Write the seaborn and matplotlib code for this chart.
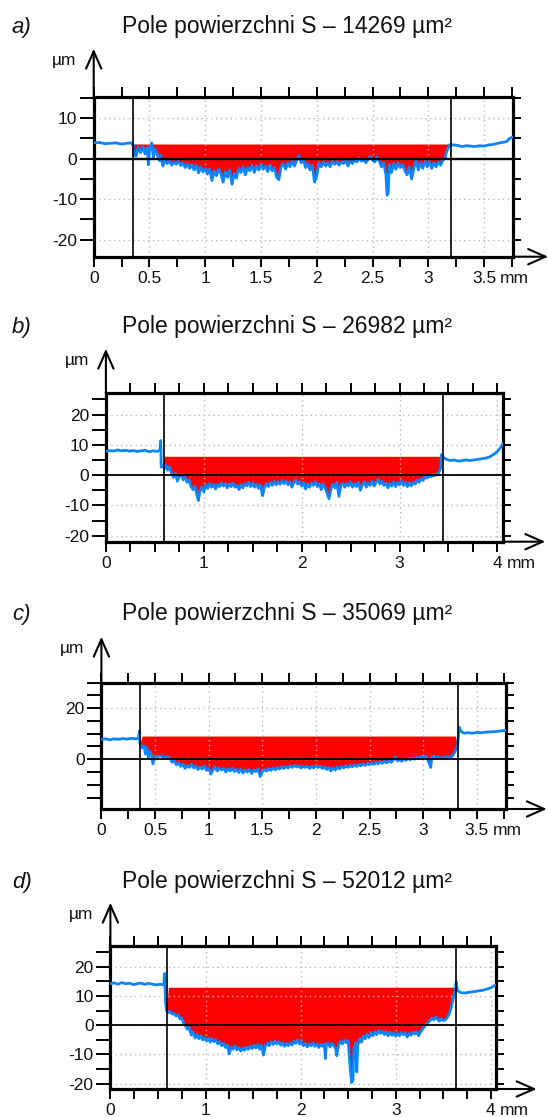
import numpy as np
import pandas as pd
import seaborn as sns
import matplotlib.pyplot as plt
from matplotlib import font_manager
from matplotlib.ticker import MultipleLocator, FuncFormatter
from matplotlib.transforms import offset_copy


# ---- values (x in mm, y in um) ----
panel_tags = ['a)', 'b)', 'c)', 'd)']
areas = [14269, 26982, 35069, 52012]

prof_a = [
    (0.00, 3.9), (0.05, 4.0), (0.10, 3.7), (0.15, 3.8), (0.20, 3.9), (0.25, 3.6), (0.30, 3.8), (0.34, 3.9),
    (0.355, 3.2), (0.36, 1.0), (0.38, 0.6), (0.40, 2.9), (0.42, 1.5), (0.44, 3.0), (0.46, 1.2), (0.48, 2.8),
    (0.49, -1.5), (0.50, 2.0), (0.52, 3.9), (0.535, 0.2), (0.55, 2.5), (0.57, 1.0), (0.59, -0.5), (0.60, 0.8),
    (0.62, -1.8), (0.64, -0.4), (0.66, -1.2), (0.68, -0.6), (0.70, -1.6), (0.72, -0.8), (0.74, -1.4), (0.76, -0.5),
    (0.78, -1.7), (0.80, -1.0), (0.82, -2.2), (0.84, -1.3), (0.86, -2.4), (0.88, -1.5), (0.90, -2.8), (0.92, -1.6),
    (0.94, -3.5), (0.96, -2.0), (0.98, -3.3), (1.00, -2.4), (1.02, -3.8), (1.04, -2.6), (1.06, -5.4), (1.08, -3.0),
    (1.10, -4.2), (1.12, -2.6), (1.14, -3.6), (1.16, -5.8), (1.18, -3.2), (1.20, -4.6), (1.22, -2.8), (1.24, -6.3),
    (1.26, -3.6), (1.28, -4.8), (1.30, -2.4), (1.32, -3.4), (1.34, -2.0), (1.36, -4.0), (1.38, -2.2), (1.40, -3.0),
    (1.42, -1.6), (1.44, -3.4), (1.46, -1.8), (1.48, -2.8), (1.50, -1.4), (1.52, -2.6), (1.54, -1.8), (1.56, -3.2),
    (1.58, -1.6), (1.60, -3.0), (1.62, -2.2), (1.64, -4.6), (1.66, -5.2), (1.68, -2.0), (1.70, -1.2), (1.72, -2.6),
    (1.74, -1.0), (1.76, -2.0), (1.78, -0.6), (1.80, -1.8), (1.82, -0.4), (1.84, 0.8), (1.86, -1.0), (1.88, -0.2),
    (1.90, -2.2), (1.92, -1.2), (1.94, -2.8), (1.96, -1.6), (1.98, -5.8), (2.00, -4.2), (2.02, -1.0), (2.04, -2.0),
    (2.06, -0.8), (2.08, -1.8), (2.10, -1.0), (2.12, -2.0), (2.14, -0.6), (2.16, -1.4), (2.18, -0.8), (2.20, -1.6),
    (2.22, -0.8), (2.24, -1.2), (2.26, -0.4), (2.28, -1.8), (2.30, -0.6), (2.32, -1.2), (2.34, -0.2), (2.36, -0.8),
    (2.38, 0.2), (2.40, -0.6), (2.42, -0.2), (2.44, -1.0), (2.46, -0.2), (2.48, 0.6), (2.50, -0.4), (2.52, -0.8),
    (2.54, 0.4), (2.56, -0.6), (2.58, -2.0), (2.60, -1.0), (2.62, -4.0), (2.63, -9.0), (2.64, -8.6), (2.65, -1.5),
    (2.67, -3.4), (2.69, -1.2), (2.71, -2.6), (2.73, -1.0), (2.75, -2.2), (2.77, -1.4), (2.79, -3.0), (2.81, -4.0),
    (2.83, -2.0), (2.85, -5.0), (2.87, -2.4), (2.89, -0.2), (2.91, -2.8), (2.93, -1.0), (2.95, -2.4), (2.97, -0.6),
    (2.99, -2.0), (3.01, -0.8), (3.03, -2.4), (3.05, -1.0), (3.07, -2.0), (3.09, -0.8), (3.11, -1.6), (3.13, -0.4),
    (3.15, 0.2), (3.16, 1.4), (3.18, 2.8), (3.20, 3.6), (3.22, 3.4), (3.26, 3.3), (3.30, 3.0), (3.34, 3.2),
    (3.38, 3.1), (3.42, 3.0), (3.46, 3.2), (3.50, 3.1), (3.54, 3.4), (3.58, 3.5), (3.62, 3.8), (3.66, 4.0),
    (3.70, 4.2), (3.73, 5.0), (3.76, 5.4),
]

prof_b = [
    (0.00, 7.8), (0.04, 8.1), (0.08, 7.9), (0.12, 8.3), (0.16, 8.0), (0.20, 8.2), (0.24, 7.9), (0.28, 8.1),
    (0.32, 7.8), (0.36, 8.0), (0.40, 8.2), (0.44, 7.7), (0.48, 8.0), (0.52, 7.8), (0.55, 8.1), (0.56, 11.4),
    (0.565, 2.6), (0.58, 3.2), (0.60, 2.2), (0.61, 3.4), (0.63, 1.6), (0.65, 2.8), (0.67, 0.6), (0.69, -0.8),
    (0.71, 0.6), (0.73, -2.0), (0.75, -0.6), (0.77, 0.2), (0.79, -1.6), (0.81, -0.8), (0.83, -2.4), (0.85, -1.6),
    (0.87, -3.8), (0.89, -4.8), (0.91, -3.6), (0.93, -6.6), (0.945, -8.4), (0.96, -5.2), (0.98, -3.8), (1.00, -5.6),
    (1.02, -3.2), (1.04, -4.4), (1.06, -2.8), (1.08, -4.0), (1.10, -3.0), (1.12, -4.6), (1.14, -3.2), (1.16, -3.8),
    (1.18, -2.6), (1.20, -3.6), (1.22, -2.8), (1.24, -4.2), (1.26, -3.0), (1.28, -3.8), (1.30, -2.6), (1.32, -4.0),
    (1.34, -3.4), (1.36, -4.8), (1.38, -3.2), (1.40, -4.2), (1.42, -2.8), (1.44, -3.6), (1.46, -2.4), (1.48, -3.8),
    (1.50, -2.6), (1.52, -4.0), (1.54, -3.0), (1.56, -4.4), (1.58, -3.2), (1.60, -6.8), (1.62, -4.0), (1.64, -2.8),
    (1.66, -3.8), (1.68, -2.4), (1.70, -3.4), (1.72, -2.0), (1.74, -3.2), (1.76, -2.2), (1.78, -3.0), (1.80, -1.8),
    (1.82, -2.8), (1.84, -2.0), (1.86, -3.2), (1.88, -2.2), (1.90, -4.0), (1.92, -2.6), (1.94, -1.6), (1.96, -3.0),
    (1.98, -2.2), (2.00, -3.6), (2.02, -2.4), (2.04, -4.6), (2.06, -3.0), (2.08, -4.0), (2.10, -2.6), (2.12, -3.4),
    (2.14, -2.2), (2.16, -3.8), (2.18, -2.8), (2.20, -4.8), (2.22, -3.0), (2.24, -4.2), (2.26, -6.0), (2.28, -7.8),
    (2.30, -4.4), (2.32, -3.0), (2.34, -4.2), (2.36, -2.4), (2.38, -7.0), (2.40, -3.6), (2.42, -2.6), (2.44, -4.0),
    (2.46, -2.8), (2.48, -3.6), (2.50, -2.2), (2.52, -4.0), (2.54, -2.8), (2.56, -3.8), (2.58, -2.4), (2.60, -5.0),
    (2.62, -3.2), (2.64, -2.2), (2.66, -4.0), (2.68, -2.6), (2.70, -3.4), (2.72, -2.0), (2.74, -3.6), (2.76, -2.4),
    (2.78, -1.4), (2.80, -3.0), (2.82, -2.0), (2.84, -3.4), (2.86, -2.6), (2.88, -4.2), (2.90, -2.8), (2.92, -3.6),
    (2.94, -2.2), (2.96, -3.8), (2.98, -2.4), (3.00, -3.2), (3.02, -2.0), (3.04, -3.4), (3.06, -2.4), (3.08, -3.8),
    (3.10, -2.6), (3.12, -3.6), (3.14, -2.4), (3.16, -3.0), (3.18, -1.6), (3.20, -2.4), (3.22, -1.2), (3.24, -1.8),
    (3.26, -0.6), (3.28, -1.0), (3.30, -0.4), (3.32, -0.6), (3.34, 0.0), (3.36, -0.2), (3.38, 0.4), (3.40, 0.8),
    (3.42, 2.2), (3.43, 6.8), (3.45, 5.8), (3.48, 5.2), (3.52, 4.8), (3.56, 5.0), (3.60, 4.6), (3.64, 4.8),
    (3.68, 5.0), (3.72, 4.8), (3.76, 5.0), (3.80, 5.2), (3.84, 5.4), (3.88, 5.6), (3.92, 6.0), (3.96, 6.8),
    (4.00, 7.8), (4.03, 9.0), (4.06, 10.6),
]

prof_c = [
    (0.00, 7.8), (0.04, 8.0), (0.08, 7.6), (0.12, 8.0), (0.16, 7.8), (0.20, 8.1), (0.24, 7.9), (0.28, 8.2),
    (0.32, 8.0), (0.345, 8.2), (0.355, 11.2), (0.36, 6.0), (0.38, 4.4), (0.40, 5.2), (0.41, 2.0), (0.42, 4.6),
    (0.44, 0.4), (0.45, 3.2), (0.47, 1.6), (0.48, -1.8), (0.50, 1.2), (0.52, 1.0), (0.55, 1.4), (0.58, 0.8),
    (0.61, 1.0), (0.64, 0.4), (0.66, -1.2), (0.68, -0.6), (0.70, -2.2), (0.72, -1.4), (0.74, -2.8), (0.76, -1.8),
    (0.78, -3.6), (0.80, -2.4), (0.82, -3.2), (0.84, -2.0), (0.86, -3.4), (0.88, -2.6), (0.90, -4.0), (0.92, -3.0),
    (0.94, -3.8), (0.96, -2.6), (0.98, -4.4), (1.00, -3.4), (1.02, -5.8), (1.04, -4.2), (1.06, -3.0), (1.08, -4.6),
    (1.10, -3.4), (1.12, -4.2), (1.14, -3.6), (1.16, -5.0), (1.18, -3.8), (1.20, -4.6), (1.22, -3.4), (1.24, -4.8),
    (1.26, -4.0), (1.28, -5.2), (1.30, -3.8), (1.32, -5.4), (1.34, -4.2), (1.36, -5.0), (1.38, -4.0), (1.40, -5.6),
    (1.42, -4.2), (1.44, -4.8), (1.46, -3.8), (1.48, -6.8), (1.50, -5.0), (1.52, -4.0), (1.54, -4.6), (1.56, -3.6),
    (1.58, -4.4), (1.60, -3.4), (1.62, -4.2), (1.64, -3.2), (1.66, -3.8), (1.68, -3.0), (1.70, -3.6), (1.72, -2.8),
    (1.74, -3.4), (1.76, -2.6), (1.78, -3.2), (1.80, -2.4), (1.82, -3.0), (1.84, -2.6), (1.86, -3.4), (1.88, -2.8),
    (1.90, -3.2), (1.92, -2.6), (1.94, -3.6), (1.96, -2.8), (1.98, -3.4), (2.00, -2.6), (2.02, -3.2), (2.04, -2.8),
    (2.06, -3.6), (2.08, -3.0), (2.10, -4.0), (2.12, -3.2), (2.14, -4.6), (2.16, -3.4), (2.18, -4.2), (2.20, -3.0),
    (2.22, -3.8), (2.24, -2.8), (2.26, -3.4), (2.28, -2.6), (2.30, -3.2), (2.32, -2.4), (2.34, -3.0), (2.36, -2.2),
    (2.38, -2.8), (2.40, -2.0), (2.42, -2.6), (2.44, -1.8), (2.46, -2.4), (2.48, -1.6), (2.50, -2.2), (2.52, -1.4),
    (2.54, -2.0), (2.56, -1.2), (2.58, -1.8), (2.60, -1.0), (2.62, -1.6), (2.64, -0.8), (2.66, -1.4), (2.68, -0.6),
    (2.70, -1.2), (2.72, -0.4), (2.74, 0.8), (2.76, -0.6), (2.78, -0.2), (2.80, -0.8), (2.82, 0.2), (2.84, -0.4),
    (2.86, 0.4), (2.88, -0.2), (2.90, 0.6), (2.92, 0.0), (2.94, 0.8), (2.96, 0.2), (2.98, 1.0), (3.00, 0.4),
    (3.02, 1.2), (3.04, 0.0), (3.06, -2.0), (3.07, -3.2), (3.08, 0.8), (3.10, 1.2), (3.12, 0.4), (3.14, 1.0),
    (3.16, 0.2), (3.18, 0.8), (3.20, 0.4), (3.22, 1.0), (3.24, 0.6), (3.26, 1.0), (3.28, 1.6), (3.30, 3.4),
    (3.32, 5.2), (3.335, 12.6), (3.35, 11.0), (3.38, 10.2), (3.42, 10.4), (3.46, 10.2), (3.50, 10.5), (3.54, 10.4),
    (3.58, 10.6), (3.62, 10.7), (3.66, 10.8), (3.70, 11.0), (3.74, 11.2), (3.77, 11.3),
]

prof_d = [
    (0.00, 14.2), (0.04, 14.5), (0.08, 14.0), (0.12, 14.6), (0.16, 14.2), (0.20, 14.4), (0.24, 13.9), (0.28, 14.2),
    (0.32, 14.4), (0.36, 14.0), (0.40, 14.3), (0.44, 14.1), (0.48, 13.8), (0.52, 14.0), (0.56, 13.8), (0.57, 17.7),
    (0.58, 8.0), (0.59, 5.0), (0.61, 4.2), (0.63, 4.8), (0.65, 3.8), (0.67, 4.0), (0.69, 3.2), (0.71, 3.6),
    (0.73, 2.2), (0.75, 2.6), (0.77, 0.6), (0.79, -0.2), (0.81, -1.4), (0.83, -0.8), (0.85, -3.4), (0.87, -2.2),
    (0.89, -4.4), (0.91, -3.2), (0.93, -4.6), (0.95, -3.6), (0.97, -5.0), (0.99, -4.2), (1.01, -5.4), (1.03, -4.4),
    (1.05, -5.8), (1.07, -4.6), (1.09, -5.6), (1.11, -5.0), (1.13, -6.4), (1.15, -5.6), (1.17, -7.0), (1.19, -6.2),
    (1.21, -7.6), (1.23, -6.8), (1.25, -9.8), (1.27, -7.4), (1.29, -8.2), (1.31, -7.0), (1.33, -8.4), (1.35, -7.6),
    (1.37, -8.8), (1.39, -7.8), (1.41, -8.6), (1.43, -7.4), (1.45, -8.2), (1.47, -7.2), (1.49, -8.0), (1.51, -6.8),
    (1.53, -7.8), (1.55, -6.6), (1.57, -8.2), (1.59, -6.8), (1.61, -10.2), (1.63, -7.0), (1.65, -6.0), (1.67, -7.0),
    (1.69, -5.6), (1.71, -6.6), (1.73, -5.4), (1.75, -6.4), (1.77, -5.6), (1.79, -6.8), (1.81, -6.0), (1.83, -7.2),
    (1.85, -6.2), (1.87, -7.0), (1.89, -6.0), (1.91, -6.8), (1.93, -5.4), (1.95, -6.2), (1.97, -5.0), (1.99, -6.4),
    (2.01, -5.6), (2.03, -7.0), (2.05, -6.2), (2.07, -7.4), (2.09, -6.4), (2.11, -7.0), (2.13, -6.0), (2.15, -7.2),
    (2.17, -6.4), (2.19, -7.6), (2.21, -6.6), (2.23, -7.2), (2.25, -6.4), (2.26, -11.4), (2.27, -6.8), (2.29, -6.0),
    (2.31, -7.4), (2.33, -6.2), (2.35, -7.0), (2.37, -8.0), (2.38, -10.4), (2.40, -6.6), (2.42, -5.6), (2.44, -6.4),
    (2.46, -5.0), (2.48, -6.0), (2.50, -5.2), (2.52, -14.0), (2.535, -19.6), (2.55, -19.0), (2.56, -8.0), (2.58, -6.0),
    (2.59, -16.0), (2.60, -7.0), (2.62, -4.6), (2.64, -5.8), (2.66, -3.6), (2.68, -4.6), (2.70, -3.0), (2.72, -4.2),
    (2.74, -2.6), (2.76, -3.6), (2.78, -2.2), (2.80, -3.2), (2.82, -1.8), (2.84, -2.8), (2.86, -2.0), (2.88, -3.2),
    (2.90, -2.2), (2.92, -3.6), (2.94, -2.4), (2.96, -3.4), (2.98, -2.6), (3.00, -3.8), (3.02, -2.8), (3.04, -3.6),
    (3.06, -2.4), (3.08, -3.2), (3.10, -2.6), (3.12, -4.0), (3.14, -2.8), (3.16, -3.4), (3.18, -2.4), (3.20, -3.0),
    (3.22, -2.2), (3.24, -3.6), (3.26, -2.4), (3.28, -1.4), (3.30, -0.6), (3.32, 0.2), (3.34, 0.8), (3.36, 1.6),
    (3.38, 2.4), (3.40, 1.8), (3.42, 2.8), (3.44, 2.0), (3.46, 1.4), (3.48, 2.2), (3.50, 1.6), (3.52, 1.8),
    (3.54, 2.6), (3.56, 3.6), (3.58, 5.8), (3.60, 8.6), (3.61, 10.2), (3.625, 11.4), (3.635, 14.8), (3.65, 11.8),
    (3.68, 11.2), (3.72, 11.0), (3.76, 11.2), (3.80, 11.4), (3.84, 11.6), (3.88, 11.8), (3.92, 12.0), (3.96, 12.4),
    (4.00, 12.8), (4.05, 13.8),
]

profiles = [prof_a, prof_b, prof_c, prof_d]

# boundaries of the measured groove and the level of the filled area
edge_left = [0.35, 0.59, 0.36, 0.59]
edge_right = [3.20, 3.44, 3.32, 3.63]
fill_from = [0.36, 0.59, 0.37, 0.60]
fill_to = [3.19, 3.43, 3.31, 3.62]
fill_level = [3.5, 6.2, 9.1, 13.0]

# axis ranges and tick steps
x_max = [3.76, 4.06, 3.77, 4.05]
y_lo = [-24.2, -22.0, -19.5, -21.8]
y_hi = [15.3, 27.2, 30.0, 27.2]
x_major = [0.5, 1.0, 0.5, 1.0]
y_major = [10, 10, 20, 10]
x_last = [3.5, 4.0, 3.5, 4.0]


# ---- layout (pixels of a 548 x 1117 picture) ----
W, H = 548, 1117
axes_px = [(93.7, 96.7, 513.1, 256.7),
           (105.9, 392.7, 503.3, 541.7),
           (101.4, 682.7, 505.8, 809.0),
           (110.4, 945.7, 495.6, 1089.0)]
title_base = [33, 333, 620, 888]
arrow_up = [48, 44, 46, 43]
arrow_right = [35, 42, 41, 41]
mm_shift = [16, 9, 16, 9]

BLUE = '#0a84ff'
RED = '#ff0000'

sns.set_theme(style='white')
names = {f.name for f in font_manager.fontManager.ttflist}
narrow = 'Liberation Sans Narrow' in names
title_font = 'Liberation Sans Narrow' if narrow else 'Liberation Sans'
title_size = 19 if narrow else 16.5
plt.rcParams['font.family'] = ['Liberation Sans', 'DejaVu Sans']
plt.rcParams['axes.unicode_minus'] = False

fig = plt.figure(figsize=(W / 100, H / 100), dpi=100)
px2pt = 72 / 100

for i in range(4):
    l, t, r, b = axes_px[i]
    ax = fig.add_axes([l / W, 1 - b / H, (r - l) / W, (b - t) / H])

    pts = np.array(profiles[i])
    df = pd.DataFrame({'x': pts[:, 0], 'y': pts[:, 1]})

    inside = (df['x'] >= fill_from[i]) & (df['x'] <= fill_to[i])
    ax.fill_between(df['x'], df['y'], fill_level[i],
                    where=inside & (df['y'] <= fill_level[i]),
                    interpolate=True, color=RED, lw=0, zorder=1)
    sns.lineplot(data=df, x='x', y='y', ax=ax, color=BLUE, lw=2.0,
                 estimator=None, sort=False, zorder=3)

    ax.axhline(0, color='black', lw=1.3 if i else 1.7, zorder=4)
    ax.axvline(edge_left[i], color='black', lw=1.2, zorder=4)
    ax.axvline(edge_right[i], color='black', lw=1.2, zorder=4)

    ax.set_xlim(0, x_max[i])
    ax.set_ylim(y_lo[i], y_hi[i])
    ax.set_xlabel('')
    ax.set_ylabel('')

    ax.xaxis.set_major_locator(MultipleLocator(x_major[i]))
    ax.xaxis.set_minor_locator(MultipleLocator(0.25))
    ax.yaxis.set_major_locator(MultipleLocator(y_major[i]))
    ax.yaxis.set_minor_locator(MultipleLocator(5))
    ax.xaxis.set_major_formatter(FuncFormatter(lambda v, p: f'{v:g}'))
    ax.yaxis.set_major_formatter(FuncFormatter(lambda v, p: f'{v:g}'))

    ax.grid(True, which='major', color='#b8b8b8', lw=1.0, ls=(0, (1, 2.5)))
    ax.set_axisbelow('line')

    for s in ax.spines.values():
        s.set_visible(True)
        s.set_color('black')
        s.set_linewidth(2.3)

    ax.tick_params(axis='x', which='both', direction='out', top=True, bottom=True,
                   length=7, width=1.4, color='black', labelsize=12.5, pad=3,
                   labelcolor='#111111')
    ax.tick_params(axis='y', which='both', direction='out', left=True, right=True,
                   length=10, width=1.4, color='black', labelsize=12.5, pad=2,
                   labelcolor='#111111')
    for tk in ax.yaxis.get_major_ticks() + ax.yaxis.get_minor_ticks():
        tk.tick2line.set_markersize(6)

    # unit of the x axis after the last tick label
    ax.annotate('mm', xy=(x_last[i], 0), xycoords=('data', 'axes fraction'),
                xytext=(mm_shift[i] * px2pt, -10), textcoords='offset points',
                ha='left', va='top', fontsize=12.5, color='#111111')

    # axis arrows
    head = dict(arrowstyle='->,head_length=1.25,head_width=0.55', lw=1.5,
                color='black', shrinkA=0, shrinkB=0, mutation_scale=10)
    up = offset_copy(ax.transAxes, fig=fig, x=0, y=arrow_up[i], units='dots')
    ax.annotate('', xy=(0, 1), xycoords=up, xytext=(0, 1), textcoords='axes fraction',
                arrowprops=head, annotation_clip=False)
    right = offset_copy(ax.transAxes, fig=fig, x=arrow_right[i], y=0, units='dots')
    ax.annotate('', xy=(1, 0), xycoords=right, xytext=(1, 0), textcoords='axes fraction',
                arrowprops=head, annotation_clip=False)
    ax.annotate('µm', xy=(0, 1), xycoords='axes fraction',
                xytext=(-17 * px2pt, (arrow_up[i] - 16) * px2pt), textcoords='offset points',
                ha='right', va='baseline', fontsize=12.5, color='#111111')

    fig.text(287 / W, 1 - title_base[i] / H, f'Pole powierzchni S – {areas[i]} µm²',
             ha='center', va='baseline', fontsize=title_size, family=title_font,
             color='#111111')
    fig.text(12 / W, 1 - title_base[i] / H, panel_tags[i], ha='left', va='baseline',
             fontsize=16, style='italic', color='#111111')

fig.savefig('out.png', dpi=100)
